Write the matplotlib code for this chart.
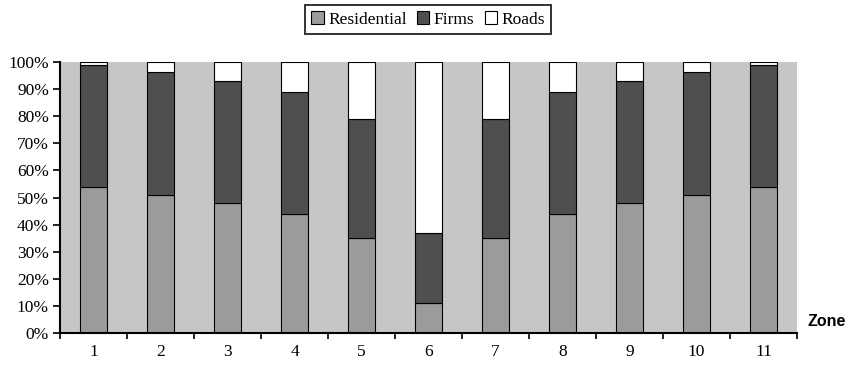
import numpy as np
import matplotlib.pyplot as plt
from matplotlib.ticker import PercentFormatter

zones = [str(i) for i in range(1, 12)]
residential = [54, 51, 48, 44, 35, 11, 35, 44, 48, 51, 54]
firms = [45, 45.5, 45, 45, 44, 26, 44, 45, 45, 45.5, 45]
roads = [1, 3.5, 7, 11, 21, 63, 21, 11, 7, 3.5, 1]

serif = ["Liberation Serif", "DejaVu Serif"]

fig = plt.figure(figsize=(8.56, 3.69), dpi=100)
ax = fig.add_axes([0.0701, 0.0976, 0.861, 0.734])
ax.set_facecolor("#c6c6c6")

x = np.arange(len(zones))
w = 0.41
res = np.array(residential)
frm = np.array(firms)
rd = np.array(roads)
ax.bar(x, res, w, color="#9b9b9b", edgecolor="black", linewidth=0.8, label="Residential")
ax.bar(x, frm, w, bottom=res, color="#4f4f4f", edgecolor="black", linewidth=0.8, label="Firms")
ax.bar(x, rd, w, bottom=res + frm, color="white", edgecolor="black", linewidth=0.8, label="Roads")

ax.set_xlim(-0.5, len(zones) - 0.5)
ax.set_ylim(0, 100)
ax.set_yticks(np.arange(0, 101, 10))
ax.yaxis.set_major_formatter(PercentFormatter(decimals=0))
ax.set_xticks(x)
ax.set_xticklabels(zones)
ax.set_xticks(np.arange(-0.5, len(zones)), minor=True)
ax.tick_params(axis="x", which="major", length=0, pad=8)
ax.tick_params(axis="x", which="minor", length=4, width=1.2, direction="out")
ax.tick_params(axis="y", length=5, width=1.2, direction="out", pad=3)
for lbl in ax.get_xticklabels() + ax.get_yticklabels():
    lbl.set_family(serif)
    lbl.set_fontsize(12.5)

for s in ["top", "right"]:
    ax.spines[s].set_visible(False)
for s in ["left", "bottom"]:
    ax.spines[s].set_linewidth(1.5)

fig.text(0.943, 0.128, "Zone", family=["Liberation Sans", "DejaVu Sans"],
         fontweight="bold", fontsize=11.5, ha="left", va="center")

leg = fig.legend(loc="upper center", bbox_to_anchor=(0.5, 0.995), ncol=3,
                 prop={"family": serif, "size": 12.5}, frameon=True, fancybox=False,
                 edgecolor="black", handlelength=0.7, handleheight=0.7,
                 handletextpad=0.25, columnspacing=0.6, borderpad=0.35,
                 borderaxespad=0.2)
leg.get_frame().set_linewidth(1.4)

fig.savefig("out.png", dpi=100)
